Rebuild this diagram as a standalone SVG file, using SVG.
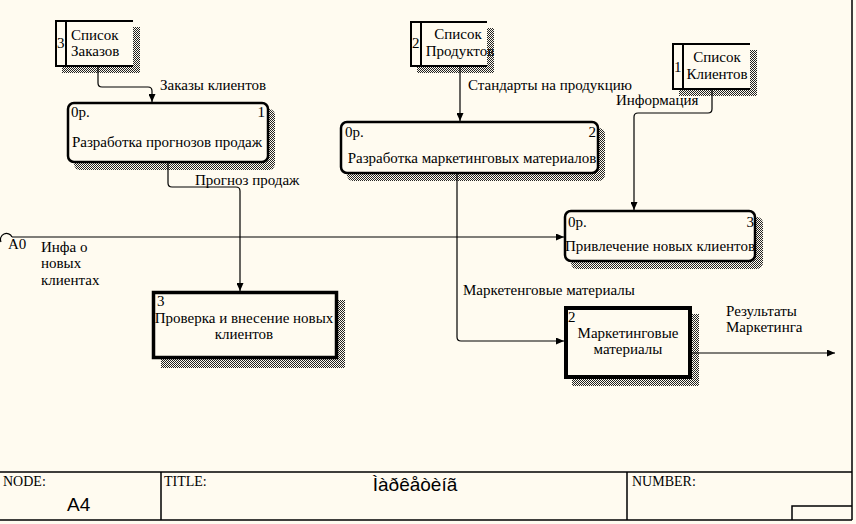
<svg xmlns="http://www.w3.org/2000/svg" width="856" height="524" viewBox="0 0 856 524">
<defs>
<pattern id="hatch" x="0" y="0" width="2" height="2" patternUnits="userSpaceOnUse"><rect width="2" height="2" fill="#FFFBF0"/><rect width="1" height="1" fill="#222"/><rect x="1" y="1" width="1" height="1" fill="#222"/></pattern>
<marker id="arr" markerUnits="userSpaceOnUse" markerWidth="8" markerHeight="7" refX="8" refY="3.5" orient="auto"><path d="M0,0 L8,3.5 L0,7 z" fill="#000"/></marker>
</defs>
<style>
text{font-family:"Liberation Serif","Times New Roman",serif;font-size:15px;fill:#000}
.sans{font-family:"Liberation Sans",Arial,sans-serif}
.mid{text-anchor:middle}
.end{text-anchor:end}
.sh{fill:url(#hatch);stroke:none}
.proc{fill:#FFFBF0;stroke:#000;stroke-width:2.5}
.box{fill:#FFFBF0;stroke:#000}
.ln{fill:none;stroke:#000;stroke-width:1.2}
.frame{fill:none;stroke:#000;stroke-width:1.5}
</style>
<rect width="856" height="524" fill="#FFFBF0"/>

<g id="frame">
<path class="frame" d="M0,472 H852 M0,520 H852 M852,0 V520 M161,472 V520 M627,472 V520 M792,520 V506 H852"/>
<text x="3" y="486" style="font-size:14px">NODE:</text>
<text x="67" y="511" class="sans" style="font-size:19px">A4</text>
<text x="164" y="486" style="font-size:14px">TITLE:</text>
<text x="415" y="491" class="sans mid" style="font-size:19px">Ìàðêåòèíã</text>
<text x="632" y="486" style="font-size:14px">NUMBER:</text>
</g>

<g id="store3">
<rect class="sh" x="62" y="27" width="78" height="46"/>
<rect x="55" y="20" width="78" height="47" fill="#FFFBF0"/>
<path class="ln" style="stroke-width:2" d="M133,21 H56 V66 H133 M66,21 V66"/>
<text x="57" y="48">3</text>
<text x="71" y="40">Список</text>
<text x="71" y="56">Заказов</text>
</g>

<g id="store2">
<rect class="sh" x="417" y="28" width="77" height="45"/>
<rect x="410" y="21" width="77" height="46" fill="#FFFBF0"/>
<path class="ln" style="stroke-width:2" d="M487,22 H411 V66 H487 M421,22 V66"/>
<text x="412" y="48">2</text>
<text x="458" y="39" class="mid">Список</text>
<text x="460" y="56" class="mid">Продуктов</text>
</g>

<g id="store1">
<rect class="sh" x="679" y="50" width="78" height="46"/>
<rect x="672" y="43" width="78" height="47" fill="#FFFBF0"/>
<path class="ln" style="stroke-width:2" d="M750,44 H673 V89 H750 M683,44 V89"/>
<text x="674" y="72">1</text>
<text x="717" y="62" class="mid">Список</text>
<text x="717" y="79" class="mid">Клиентов</text>
</g>

<g id="proc1">
<rect class="sh" x="74" y="109" width="201" height="61" rx="6"/>
<rect class="proc" x="68" y="103" width="200" height="59" rx="6"/>
<text x="71" y="117">0р.</text>
<text x="265" y="117" class="end">1</text>
<text x="167" y="147" class="mid">Разработка прогнозов продаж</text>
</g>

<g id="proc2">
<rect class="sh" x="347" y="128" width="258" height="53" rx="6"/>
<rect class="proc" x="341" y="122" width="257" height="51" rx="6"/>
<text x="345" y="137">0р.</text>
<text x="596" y="137" class="end">2</text>
<text x="472" y="163" class="mid">Разработка маркетинговых материалов</text>
</g>

<g id="proc3">
<rect class="sh" x="571" y="217" width="192" height="52" rx="6"/>
<rect class="proc" x="565" y="211" width="190" height="50" rx="6"/>
<text x="568" y="227">0р.</text>
<text x="754" y="227" class="end">3</text>
<text x="660" y="251" class="mid">Привлечение новых клиентов</text>
</g>

<g id="box3">
<rect class="sh" x="161" y="300" width="184" height="68"/>
<rect class="box" style="stroke-width:3.5" x="153.5" y="292.5" width="183" height="65"/>
<text x="157" y="306">3</text>
<text x="244" y="323" class="mid">Проверка и внесение новых</text>
<text x="244" y="339" class="mid">клиентов</text>
</g>

<g id="box2">
<rect class="sh" x="572" y="314" width="127" height="72"/>
<rect class="box" style="stroke-width:4" x="566" y="308" width="124" height="69"/>
<text x="568" y="322">2</text>
<text x="628" y="338" class="mid">Маркетинговые</text>
<text x="628" y="354" class="mid">материалы</text>
</g>

<g id="connectors">
<path class="ln" marker-end="url(#arr)" d="M98,67 V83 Q98,87 102,87 H148 Q152,87 152,91 V102"/>
<path class="ln" marker-end="url(#arr)" d="M168,163 V183 Q168,187 172,187 H236 Q240,187 240,191 V291"/>
<path class="ln" marker-end="url(#arr)" d="M460,67 V121"/>
<path class="ln" marker-end="url(#arr)" d="M712,90 V109 Q712,113 708,113 H638 Q634,113 634,117 V210"/>
<path class="ln" marker-end="url(#arr)" d="M12,237 H564"/>
<path class="ln" d="M12,237 A6,6 0 1 0 1,242"/>
<path class="ln" marker-end="url(#arr)" d="M457,174 V337 Q457,341 461,341 H564"/>
<path class="ln" marker-end="url(#arr)" d="M691,353 H835"/>
<text x="160" y="90">Заказы клиентов</text>
<text x="195" y="185">Прогноз продаж</text>
<text x="468" y="90">Стандарты на продукцию</text>
<text x="616" y="105">Информация</text>
<text x="8" y="249">A0</text>
<text x="41" y="252">Инфа о</text>
<text x="41" y="268">новых</text>
<text x="41" y="285">клиентах</text>
<text x="463" y="295">Маркетенговые материалы</text>
<text x="726" y="316">Результаты</text>
<text x="726" y="332">Маркетинга</text>
</g>
</svg>
